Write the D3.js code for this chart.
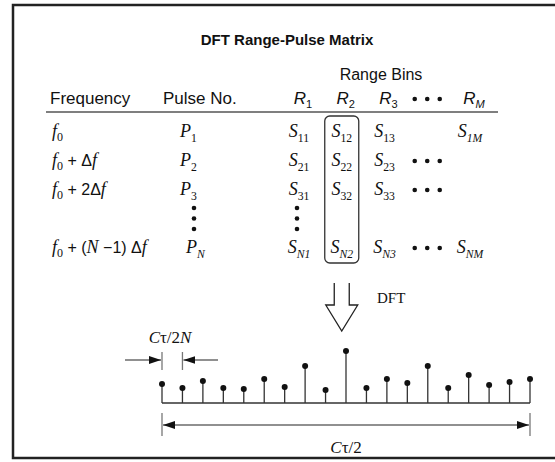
<!DOCTYPE html>
<html>
<head>
<meta charset="utf-8">
<script src="https://cdn.jsdelivr.net/npm/d3@7"></script>
<style>
  body { margin: 0; background: #fff; }
  .sans { font-family: "Liberation Sans", Arial, Helvetica, sans-serif; }
  .serif { font-family: "Liberation Serif", "Times New Roman", serif; }
</style>
</head>
<body>
<div id="chart"></div>
<script>
// ---- data ----
var title = "DFT Range-Pulse Matrix";
var groupLabel = "Range Bins";
var headers = ["Frequency", "Pulse No."];
var binCols = ["1", "2", "3", "dots", "M"];       // range bin columns
var rowKeys = ["0", "1", "2", "N"];              // matrix rows
var freqLabels = [
  [],
  [["sans", " + \u0394"], ["f", ""]],
  [["sans", " + 2\u0394"], ["f", ""]],
  [["sans", " + ("], ["it", "N"], ["sans", " \u22121) \u0394"], ["f", ""]]
];
var pulseSubs = ["1", "2", "3", "N"];
var cells = [
  ["11", "12", "13", null, "1M"],
  ["21", "22", "23", "dots", null],
  ["31", "32", "33", "dots", null],
  ["N1", "N2", "N3", "dots", "NM"]
];
var highlightCol = "2";
// DFT output samples (stem heights, arbitrary units)
var stemHeights = [19, 15, 22, 15, 14, 24, 16, 37, 13, 52, 15, 24, 20, 37, 15, 28, 18, 21, 24];

var width = 555, height = 462;

var svg = d3.select("#chart").append("svg")
  .attr("width", width)
  .attr("height", height);

svg.append("defs").append("marker")
  .attr("id", "head")
  .attr("viewBox", "0 0 12 8")
  .attr("refX", 12).attr("refY", 4)
  .attr("markerWidth", 12).attr("markerHeight", 8)
  .attr("markerUnits", "userSpaceOnUse")
  .attr("orient", "auto-start-reverse")
  .append("path")
  .attr("d", "M0,0L12,4L0,8Z")
  .attr("fill", "#111");

// frame (right edge runs off the picture)
svg.append("rect")
  .attr("x", 13).attr("y", 5)
  .attr("width", 620).attr("height", 453)
  .attr("fill", "none")
  .attr("stroke", "#222")
  .attr("stroke-width", 2.5);

// title
svg.append("text").attr("class", "sans")
  .attr("x", 287).attr("y", 45)
  .attr("text-anchor", "middle")
  .style("font-size", "15px").style("font-weight", "bold")
  .attr("fill", "#111")
  .text(title);

svg.append("text").attr("class", "sans")
  .attr("x", 381).attr("y", 80)
  .attr("text-anchor", "middle")
  .style("font-size", "16px")
  .attr("fill", "#111")
  .text(groupLabel);

// ---- table scales ----
var colX = d3.scalePoint().domain(binCols).range([299, 470]);
var rowY = d3.scaleOrdinal().domain(rowKeys).range([137, 166, 195, 253]);
var freqX = 52, pulseX = 180, headY = 104;

// headers
svg.append("text").attr("class", "sans")
  .attr("x", freqX - 2).attr("y", headY)
  .style("font-size", "17px").attr("fill", "#111")
  .text(headers[0]);
svg.append("text").attr("class", "sans")
  .attr("x", 163).attr("y", headY)
  .style("font-size", "17px").attr("fill", "#111")
  .text(headers[1]);

function subText(g, cls, big, sub, x, y, anchor, size) {
  var t = g.append("text").attr("class", cls)
    .attr("x", x).attr("y", y)
    .attr("text-anchor", anchor)
    .attr("fill", "#111")
    .style("font-size", size + "px");
  t.append("tspan").style("font-style", "italic").text(big);
  t.append("tspan").attr("dy", size * 0.25)
    .style("font-size", (size * 0.65) + "px")
    .style("font-style", /[A-Z]/.test(sub) ? "italic" : "normal")
    .text(sub);
  return t;
}

function dots(g, x, y, horizontal) {
  g.selectAll(null).data([0, 1, 2]).join("circle")
    .attr("cx", function(d) { return horizontal ? x + d * 12.5 : x; })
    .attr("cy", function(d) { return horizontal ? y : y + d * 10.5; })
    .attr("r", 2.3)
    .attr("fill", "#111");
}

binCols.forEach(function(c) {
  if (c === "dots") {
    dots(svg, colX(c) - 12.5, headY - 5, true);
  } else {
    subText(svg, "sans", "R", c, colX(c) + 4, headY, "middle", 17);
  }
});

svg.append("line")
  .attr("x1", 46).attr("x2", 498)
  .attr("y1", 112).attr("y2", 112)
  .attr("stroke", "#555").attr("stroke-width", 1.6);

// rows
rowKeys.forEach(function(r, i) {
  var y = rowY(r);
  // frequency label
  var t = svg.append("text").attr("class", "serif")
    .attr("x", freqX).attr("y", y)
    .attr("fill", "#111").style("font-size", "18px");
  t.append("tspan").style("font-style", "italic").text("f");
  t.append("tspan").attr("dy", 4).style("font-size", "12px").text("0");
  freqLabels[i].forEach(function(p, j) {
    var s = t.append("tspan");
    if (j === 0) s.attr("dy", -4);
    if (p[0] === "sans") {
      s.style("font-family", '"Liberation Sans", Arial, sans-serif').style("font-size", "16px").text(p[1]);
    } else {
      s.style("font-style", "italic").text(p[0] === "f" ? "f" : p[1]);
    }
  });
  // pulse
  subText(svg, "serif", "P", pulseSubs[i], pulseX + (r === "N" ? 6 : 0), y, "start", 18);
  // cells
  cells[i].forEach(function(c, k) {
    var col = binCols[k];
    if (c === null) return;
    if (c === "dots") {
      dots(svg, colX(col) - 12.5, y - 5, true);
    } else {
      subText(svg, "serif", "S", c, colX(col), y, "middle", 18);
    }
  });
});

// vertical ellipsis between rows 3 and N
dots(svg, 194, 208, false);
dots(svg, colX("1") - 2, 208, false);

// highlighted column box
svg.append("rect")
  .attr("x", colX(highlightCol) - 17).attr("y", 116)
  .attr("width", 34).attr("height", 147)
  .attr("rx", 5)
  .attr("fill", "none")
  .attr("stroke", "#333").attr("stroke-width", 1.3);

// hollow DFT arrow
var ax = colX(highlightCol);
svg.append("path")
  .attr("d", "M" + (ax - 7.5) + ",283V305H" + (ax - 16) + "L" + ax + ",331L" + (ax + 16) + ",305H" + (ax + 7.5) + "V283")
  .attr("fill", "none")
  .attr("stroke", "#222").attr("stroke-width", 1.3);
svg.append("text").attr("class", "serif")
  .attr("x", 377).attr("y", 303)
  .style("font-size", "15px").attr("fill", "#111")
  .text("DFT");

// ---- DFT output stems ----
var x = d3.scalePoint().domain(d3.range(stemHeights.length)).range([162, 530]);
var y = d3.scaleLinear().domain([0, 52]).range([403, 351]);

svg.append("line")
  .attr("x1", x(0)).attr("x2", x(stemHeights.length - 1))
  .attr("y1", y(0)).attr("y2", y(0))
  .attr("stroke", "#333").attr("stroke-width", 1.3);

svg.selectAll(".stem").data(stemHeights).join("line")
  .attr("class", "stem")
  .attr("x1", function(d, i) { return x(i); })
  .attr("x2", function(d, i) { return x(i); })
  .attr("y1", y(0))
  .attr("y2", function(d) { return y(d); })
  .attr("stroke", "#333").attr("stroke-width", 1.3);

svg.selectAll(".tip").data(stemHeights).join("circle")
  .attr("class", "tip")
  .attr("cx", function(d, i) { return x(i); })
  .attr("cy", function(d) { return y(d); })
  .attr("r", 3)
  .attr("fill", "#111");

// spacing dimension (C tau / 2N)
[x(0), x(1)].forEach(function(px) {
  svg.append("line")
    .attr("x1", px).attr("x2", px)
    .attr("y1", 352).attr("y2", 370)
    .attr("stroke", "#777").attr("stroke-width", 1.3);
});
svg.append("line")
  .attr("x1", 125).attr("x2", x(0) - 1)
  .attr("y1", 360).attr("y2", 360)
  .attr("stroke", "#222").attr("stroke-width", 1.2)
  .attr("marker-end", "url(#head)");
svg.append("line")
  .attr("x1", 218).attr("x2", x(1) + 1)
  .attr("y1", 360).attr("y2", 360)
  .attr("stroke", "#222").attr("stroke-width", 1.2)
  .attr("marker-end", "url(#head)");

var lbl1 = svg.append("text").attr("class", "serif")
  .attr("x", 170).attr("y", 343)
  .attr("text-anchor", "middle")
  .style("font-size", "17px").attr("fill", "#111");
lbl1.append("tspan").style("font-style", "italic").text("C");
lbl1.append("tspan").text("\u03c4/2");
lbl1.append("tspan").style("font-style", "italic").text("N");

// total span dimension (C tau / 2)
[x(0), x(stemHeights.length - 1)].forEach(function(px) {
  svg.append("line")
    .attr("x1", px).attr("x2", px)
    .attr("y1", 413).attr("y2", 436)
    .attr("stroke", "#777").attr("stroke-width", 1.3);
});
svg.append("line")
  .attr("x1", x(0) + 1).attr("x2", x(stemHeights.length - 1) - 1)
  .attr("y1", 425).attr("y2", 425)
  .attr("stroke", "#222").attr("stroke-width", 1.2)
  .attr("marker-start", "url(#head)")
  .attr("marker-end", "url(#head)");

var lbl2 = svg.append("text").attr("class", "serif")
  .attr("x", x(9)).attr("y", 453)
  .attr("text-anchor", "middle")
  .style("font-size", "17px").attr("fill", "#111");
lbl2.append("tspan").style("font-style", "italic").text("C");
lbl2.append("tspan").text("\u03c4/2");
</script>
</body>
</html>
